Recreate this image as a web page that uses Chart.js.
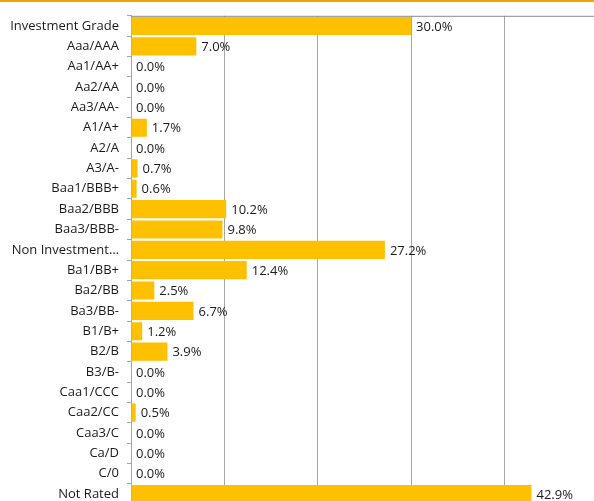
<!DOCTYPE html>
<html>
<head>
<meta charset="utf-8">
<script src="https://cdn.jsdelivr.net/npm/chart.js@4"></script>
<style>
  html, body { margin: 0; padding: 0; background: #fff; overflow: hidden; }
  #topline { position: absolute; left: 0; top: 0; width: 594px; height: 2px; background: #f0a30a; }
  #wrap { position: absolute; left: 0; top: 0; width: 594px; height: 520px; }
</style>
</head>
<body>
<div id="wrap"><canvas id="chart" width="594" height="520"></canvas></div>
<div id="topline"></div>
<script>
// Rating categories and share of portfolio (%)
const ratings = [
  'Investment Grade', 'Aaa/AAA', 'Aa1/AA+', 'Aa2/AA', 'Aa3/AA-', 'A1/A+', 'A2/A', 'A3/A-',
  'Baa1/BBB+', 'Baa2/BBB', 'Baa3/BBB-', 'Non Investment…', 'Ba1/BB+', 'Ba2/BB', 'Ba3/BB-',
  'B1/B+', 'B2/B', 'B3/B-', 'Caa1/CCC', 'Caa2/CC', 'Caa3/C', 'Ca/D', 'C/0', 'Not Rated'
];
const shares = [
  30.0, 7.0, 0.0, 0.0, 0.0, 1.7, 0.0, 0.7,
  0.6, 10.2, 9.8, 27.2, 12.4, 2.5, 6.7,
  1.2, 3.9, 0.0, 0.0, 0.5, 0.0, 0.0, 0.0, 42.9
];
const xTicks = [0, 10, 20, 30, 40];

// Value labels to the right of each bar, plus top frame line
const barLabels = {
  id: 'barLabels',
  afterDatasetsDraw(chart) {
    const ctx = chart.ctx;
    const area = chart.chartArea;
    ctx.save();
    ctx.strokeStyle = '#8c8c8c';
    ctx.lineWidth = 1;
    ctx.beginPath();
    ctx.moveTo(area.left, area.top + 0.5);
    ctx.lineTo(area.right, area.top + 0.5);
    ctx.stroke();

    ctx.font = '13px "Open Sans", sans-serif';
    ctx.fillStyle = '#1a1a1a';
    ctx.textBaseline = 'middle';
    ctx.textAlign = 'left';
    chart.getDatasetMeta(0).data.forEach((bar, i) => {
      ctx.fillText(shares[i].toFixed(1) + '%', bar.x + 5, bar.y + 1);
    });
    ctx.restore();
  }
};

const ctx = document.getElementById('chart').getContext('2d');
new Chart(ctx, {
  type: 'bar',
  data: {
    labels: ratings,
    datasets: [{
      data: shares,
      backgroundColor: '#ffc000',
      borderWidth: 0,
      categoryPercentage: 1,
      barPercentage: 0.89
    }]
  },
  options: {
    indexAxis: 'y',
    responsive: false,
    animation: false,
    layout: { padding: { top: 14, left: 0, right: 0, bottom: 0 } },
    plugins: { legend: { display: false }, tooltip: { enabled: false } },
    scales: {
      x: {
        min: 0,
        max: 49.6,
        afterBuildTicks(scale) { scale.ticks = xTicks.map(v => ({ value: v })); },
        afterFit(scale) { scale.height = 0; },
        ticks: { display: false },
        border: { display: false },
        grid: { color: '#a6a6a6', lineWidth: 1, drawTicks: false }
      },
      y: {
        afterFit(scale) { scale.width = 131; },
        border: { display: true, color: '#a6a6a6', width: 1 },
        grid: { offset: true, drawOnChartArea: false, drawTicks: true, tickLength: 4, color: '#a6a6a6' },
        ticks: {
          autoSkip: false,
          padding: 8,
          color: '#1a1a1a',
          font: { family: '"Open Sans", sans-serif', size: 13 }
        }
      }
    }
  },
  plugins: [barLabels]
});
</script>
</body>
</html>
